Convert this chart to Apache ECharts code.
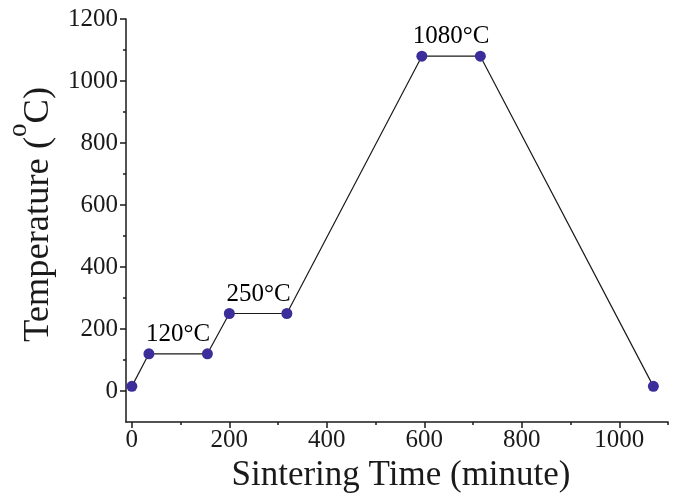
<!DOCTYPE html>
<html>
<head>
<meta charset="utf-8">
<script src="https://cdn.jsdelivr.net/npm/echarts@6/dist/echarts.min.js"></script>
<style>html,body{margin:0;padding:0;background:#fff}#c{width:676px;height:501px}</style>
</head>
<body>
<div id="c"></div>
<script>
const timeMin = [0, 35, 155, 200, 318, 595, 715, 1070];
const tempC = [15, 120, 120, 250, 250, 1080, 1080, 15];
const plateauMidTime = [95, 260, 655];
const plateauTemp = [120, 250, 1080];
const plateauLabels = ['120°C', '250°C', '1080°C'];
const xMajorTicks = [0, 200, 400, 600, 800, 1000];
const xMinorTicks = [100, 300, 500, 700, 900, 1100];
const yMajorTicks = [0, 200, 400, 600, 800, 1000, 1200];
const yMinorTicks = [100, 300, 500, 700, 900, 1100];

const FONT = '"Liberation Serif", "Times New Roman", serif';
const INK = '#1a1a1a';

const lineData = timeMin.map((t, i) => [t, tempC[i]]);
const labelData = plateauMidTime.map((t, i) => ({ value: [t, plateauTemp[i]], name: plateauLabels[i] }));

const chart = echarts.init(document.getElementById('c'), null, { renderer: 'canvas' });
const xBase = { type: 'value', min: -12, max: 1100, splitLine: { show: false } };
const yBase = { type: 'value', min: -100, max: 1200, interval: 100, splitLine: { show: false } };

chart.setOption({
  animation: false,
  backgroundColor: '#fff',
  grid: { left: 126, right: 8, top: 19, bottom: 79, containLabel: false, outerBoundsMode: 'none' },
  xAxis: [
    Object.assign({}, xBase, {
      position: 'bottom',
      axisLine: { show: true, onZero: false, lineStyle: { color: INK, width: 1.5 } },
      axisTick: { show: true, inside: false, length: 6, customValues: xMajorTicks, lineStyle: { color: INK, width: 1.5 } },
      axisLabel: { show: true, margin: 6, customValues: xMajorTicks, fontSize: 25, color: INK, fontFamily: FONT,
        formatter: v => (xMajorTicks.indexOf(v) >= 0 ? String(v) : '') },
      name: 'Sintering Time (minute)',
      nameLocation: 'middle',
      nameGap: 34,
      nameTextStyle: { fontSize: 35, color: INK, fontFamily: FONT, padding: [0, 0, 0, 8] }
    }),
    Object.assign({}, xBase, {
      position: 'bottom',
      axisLine: { show: false, onZero: false },
      axisTick: { show: true, length: 3, customValues: xMinorTicks, lineStyle: { color: INK, width: 1.5 } },
      axisLabel: { show: false }
    })
  ],
  yAxis: [
    Object.assign({}, yBase, {
      position: 'left',
      axisLine: { show: true, onZero: false, lineStyle: { color: INK, width: 1.5 } },
      axisTick: { show: true, length: 6, customValues: yMajorTicks, lineStyle: { color: INK, width: 1.5 } },
      axisLabel: { show: true, margin: 8, customValues: yMajorTicks, fontSize: 25, color: INK, fontFamily: FONT,
        formatter: v => (yMajorTicks.indexOf(v) >= 0 ? String(v) : '') },
      name: '{t|Temperature (}{s|o}{t|C)}',
      nameLocation: 'middle',
      nameGap: 52,
      nameTextStyle: {
        fontFamily: FONT, color: INK, padding: [0, 0, 0, 12],
        rich: {
          t: { fontSize: 36.5, lineHeight: 52, verticalAlign: 'bottom', fontFamily: FONT, color: INK },
          s: { fontSize: 27, lineHeight: 27, verticalAlign: 'top', fontFamily: FONT, color: INK }
        }
      }
    }),
    Object.assign({}, yBase, {
      position: 'left',
      axisLine: { show: false, onZero: false },
      axisTick: { show: true, length: 3, customValues: yMinorTicks, lineStyle: { color: INK, width: 1.5 } },
      axisLabel: { show: false }
    })
  ],
  series: [
    {
      type: 'line',
      xAxisIndex: 0, yAxisIndex: 0,
      data: lineData,
      symbol: 'circle',
      symbolSize: 11,
      showSymbol: true,
      itemStyle: { color: '#3b2e9a', opacity: 1 },
      lineStyle: { color: INK, width: 1.2 },
      emphasis: { disabled: true }
    },
    {
      type: 'scatter',
      xAxisIndex: 0, yAxisIndex: 0,
      data: labelData,
      symbolSize: 0,
      silent: true,
      itemStyle: { opacity: 1 },
      label: {
        show: true, position: 'top', distance: 7, opacity: 1,
        formatter: p => p.name,
        fontSize: 25, color: '#000', fontFamily: FONT
      }
    }
  ]
});
</script>
</body>
</html>
